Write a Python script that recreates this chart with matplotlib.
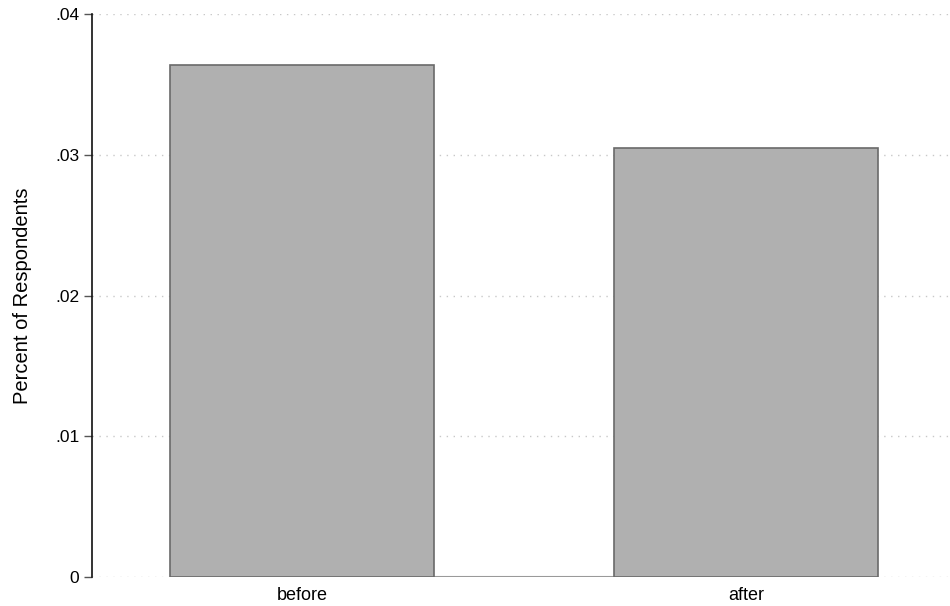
import matplotlib
matplotlib.use('Agg')
from matplotlib import pyplot as plt

# Share of respondents, before vs after.
groups = ['before', 'after']
shares = [0.03638, 0.03048]
yticks = [0, 0.01, 0.02, 0.03, 0.04]
ytick_labels = ['0', '.01', '.02', '.03', '.04']

plt.rcParams['font.family'] = ['Liberation Sans', 'DejaVu Sans']

fig = plt.figure(figsize=(9.5, 6.06), dpi=100)
ax = fig.add_axes([0.0968, 0.0479, 0.9032, 0.9289])

x = list(range(len(groups)))
width = 0.595
ax.bar(x, shares, width=width, color='#b0b0b0', edgecolor='#6a6a6a',
       linewidth=1.2, zorder=3)

# thin baseline joining the two bars
ax.plot([x[0] + width / 2, x[1] - width / 2], [0, 0], color='#9a9a9a',
        linewidth=1.5, zorder=2, solid_capstyle='butt')

# Format plot.
ax.set_xlim(-0.473, 1.459)
ax.set_ylim(0, 0.04)
ax.set_xticks(x)
ax.set_xticklabels(groups, fontsize=13)
ax.set_yticks(yticks)
ax.set_yticklabels(ytick_labels, fontsize=12.5)
ax.tick_params(axis='x', length=0, pad=7)
ax.tick_params(axis='y', length=6, width=1, color='#555555', pad=3)
ax.set_ylabel('Percent of Respondents', fontsize=14.5, labelpad=17)

ax.grid(axis='y', linestyle=(0, (1, 4)), color='#c8c8c8', linewidth=1, zorder=0)
for side in ['top', 'right', 'bottom']:
    ax.spines[side].set_visible(False)
ax.spines['left'].set_linewidth(1.2)
ax.spines['left'].set_color('#111111')

plt.savefig('out.png', dpi=100)
